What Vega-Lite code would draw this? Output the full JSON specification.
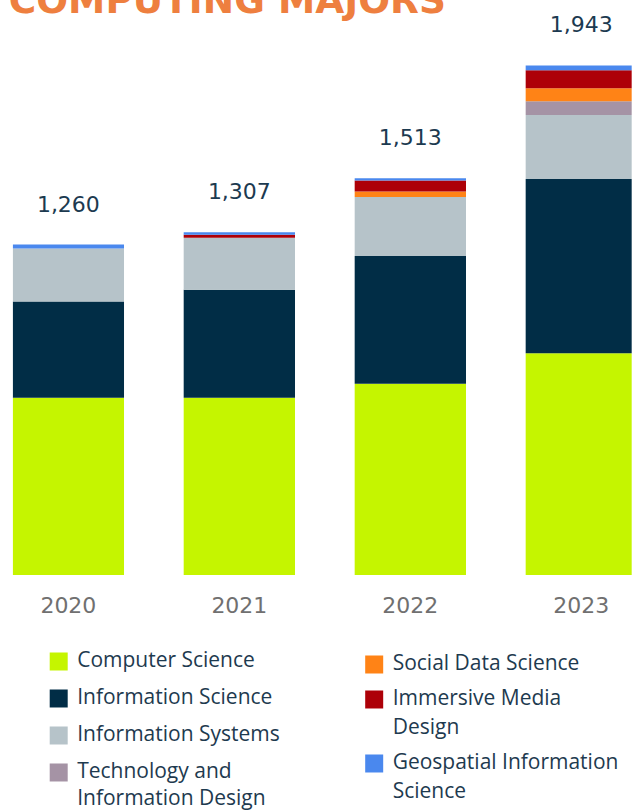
{
  "$schema": "https://vega.github.io/schema/vega-lite/v6.json",
  "width": 619,
  "height": 535,
  "autosize": {"type": "none"},
  "padding": {"left": 12.7, "top": 40, "right": 0, "bottom": 235},
  "background": "white",
  "config": {"view": {"stroke": null}},
  "title": {
    "text": "COMPUTING MAJORS",
    "frame": "group",
    "anchor": "start",
    "orient": "top",
    "baseline": "alphabetic",
    "offset": 0,
    "dx": -4,
    "dy": 36,
    "font": "DejaVu Sans",
    "fontSize": 37.5,
    "fontWeight": "bold",
    "color": "#ee7f3f"
  },
  "data": {
    "values": [
      {"year": "2020", "major": "Computer Science", "value": 676, "order": 1},
      {"year": "2020", "major": "Information Science", "value": 367, "order": 2},
      {"year": "2020", "major": "Information Systems", "value": 202, "order": 3},
      {"year": "2020", "major": "Geospatial Information Science", "value": 15, "order": 7},
      {"year": "2021", "major": "Computer Science", "value": 676, "order": 1},
      {"year": "2021", "major": "Information Science", "value": 412, "order": 2},
      {"year": "2021", "major": "Information Systems", "value": 198, "order": 3},
      {"year": "2021", "major": "Immersive Media Design", "value": 11, "order": 6},
      {"year": "2021", "major": "Geospatial Information Science", "value": 10, "order": 7},
      {"year": "2022", "major": "Computer Science", "value": 729, "order": 1},
      {"year": "2022", "major": "Information Science", "value": 487, "order": 2},
      {"year": "2022", "major": "Information Systems", "value": 225, "order": 3},
      {"year": "2022", "major": "Social Data Science", "value": 21, "order": 5},
      {"year": "2022", "major": "Immersive Media Design", "value": 42, "order": 6},
      {"year": "2022", "major": "Geospatial Information Science", "value": 9, "order": 7},
      {"year": "2023", "major": "Computer Science", "value": 846, "order": 1},
      {"year": "2023", "major": "Information Science", "value": 664, "order": 2},
      {"year": "2023", "major": "Information Systems", "value": 244, "order": 3},
      {"year": "2023", "major": "Technology and Information Design", "value": 52, "order": 4},
      {"year": "2023", "major": "Social Data Science", "value": 50, "order": 5},
      {"year": "2023", "major": "Immersive Media Design", "value": 69, "order": 6},
      {"year": "2023", "major": "Geospatial Information Science", "value": 18, "order": 7}
    ]
  },
  "transform": [
    {"stack": "value", "groupby": ["year"], "sort": [{"field": "order", "order": "ascending"}], "as": ["y0", "y1"]}
  ],
  "encoding": {
    "x": {
      "field": "year",
      "type": "ordinal",
      "scale": {"range": [0, 624.3], "paddingInner": 0.349, "paddingOuter": 0},
      "axis": null
    }
  },
  "layer": [
    {
      "transform": [{"filter": "datum.order <= 4"}],
      "mark": {"type": "bar", "clip": true},
      "encoding": {
        "y": {"field": "y0", "type": "quantitative", "scale": {"domain": [0, 2040], "nice": false}, "axis": null},
        "y2": {"field": "y1"},
        "color": {
          "field": "major",
          "type": "nominal",
          "scale": {
            "domain": ["Computer Science", "Information Science", "Information Systems", "Technology and Information Design"],
            "range": ["#c5f500", "#012d46", "#b6c3c9", "#a593a5"]
          },
          "legend": {
            "orient": "none",
            "legendX": 35.5,
            "legendY": 611,
            "title": null,
            "padding": 0,
            "symbolType": "square",
            "symbolSize": 324,
            "symbolStrokeWidth": 0,
            "symbolOpacity": 1,
            "labelFont": "Open Sans",
            "labelFontSize": 21,
            "labelColor": "#1e3a4f",
            "labelOffset": 8,
            "labelLimit": 400,
            "rowPadding": 15,
            "labelExpr": "datum.label == 'Technology and Information Design' ? ['Technology and', 'Information Design'] : datum.label",
            "encode": {"labels": {"update": {"lineHeight": {"value": 27}}}}
          }
        }
      }
    },
    {
      "transform": [{"filter": "datum.order >= 5"}],
      "mark": {"type": "bar", "clip": true},
      "encoding": {
        "y": {"field": "y0", "type": "quantitative", "scale": {"domain": [0, 2040], "nice": false}, "axis": null},
        "y2": {"field": "y1"},
        "color": {
          "field": "major",
          "type": "nominal",
          "scale": {
            "domain": ["Social Data Science", "Immersive Media Design", "Geospatial Information Science"],
            "range": ["#ff8316", "#ad0008", "#4a88ee"]
          },
          "legend": {
            "orient": "none",
            "legendX": 351,
            "legendY": 614,
            "title": null,
            "padding": 0,
            "symbolType": "square",
            "symbolSize": 324,
            "symbolStrokeWidth": 0,
            "symbolOpacity": 1,
            "labelFont": "Open Sans",
            "labelFontSize": 21,
            "labelColor": "#1e3a4f",
            "labelOffset": 8,
            "labelLimit": 400,
            "rowPadding": 13,
            "labelExpr": "datum.label == 'Immersive Media Design' ? ['Immersive Media', 'Design'] : datum.label == 'Geospatial Information Science' ? ['Geospatial Information', 'Science'] : datum.label",
            "encode": {"labels": {"update": {"lineHeight": {"value": 29}}}}
          }
        }
      }
    },
    {
      "transform": [{"aggregate": [{"op": "sum", "field": "value", "as": "total"}], "groupby": ["year"]}],
      "mark": {"type": "text", "font": "DejaVu Sans", "fontSize": 22, "color": "#1c3a50", "baseline": "alphabetic", "dy": -33},
      "encoding": {
        "y": {"field": "total", "type": "quantitative", "scale": {"domain": [0, 2040], "nice": false}, "axis": null},
        "text": {"field": "total", "type": "quantitative", "format": ","}
      }
    },
    {
      "transform": [{"aggregate": [{"op": "count", "as": "n"}], "groupby": ["year"]}],
      "mark": {"type": "text", "font": "DejaVu Sans", "fontSize": 22, "color": "#707070", "baseline": "alphabetic", "dy": 38},
      "encoding": {
        "y": {"datum": 0, "type": "quantitative", "scale": {"domain": [0, 2040], "nice": false}, "axis": null},
        "text": {"field": "year", "type": "nominal"}
      }
    }
  ],
  "resolve": {"scale": {"color": "independent"}}
}
